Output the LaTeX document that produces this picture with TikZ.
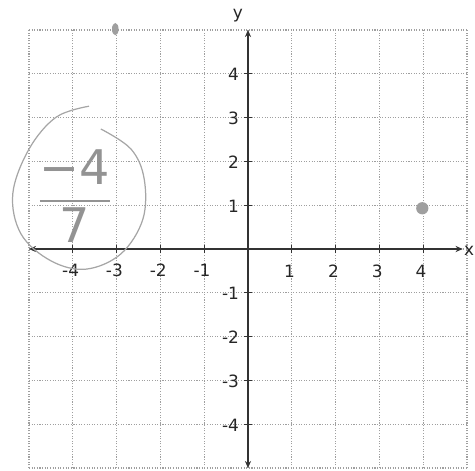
\documentclass[tikz,border=0pt]{standalone}
\usepackage{amsmath, amssymb}
\usepackage{fontspec}
\usepackage{color, xcolor}
\usepackage{tikz}
\usetikzlibrary{calc, arrows.meta, shapes.geometric}
\newfontfamily\labelfont{DejaVu Sans}

\begin{document}
\begin{tikzpicture}[
    gridline/.style={gray!75, densely dotted, line width=0.7pt},
    axisline/.style={black!80, line width=1.2pt, {Stealth[length=1.6mm,width=1.4mm]}-{Stealth[length=1.6mm,width=1.4mm]}},
    xlab/.style={inner sep=0pt, font=\labelfont\fontsize{11}{13}\selectfont, text=black!85},
    ylab/.style={inner sep=0pt, anchor=east, font=\labelfont\fontsize{11}{13}\selectfont, text=black!85},
    dot/.style={fill=gray!75, draw=none, inner sep=0pt},
    pencil/.style={gray!70, line width=0.8pt}
  ]
				\useasboundingbox (-5.662,-5.068) rectangle (5.183,5.685);

				%%% GRID
				\draw[gridline] (-5,-5) grid (5,5);

				%%% AXES
				\coordinate (xl) at (-5,0);
				\coordinate (xr) at (4.9,0);
				\coordinate (yb) at (0,-5);
				\coordinate (yt) at (0,5);
				\draw[axisline] (xl) -- (xr);
				\draw[axisline] (yb) -- (yt);
				\node[xlab, anchor=east] (xname) at (5.17,-0.04) {x};
				\node[xlab] (yname) at (-0.23,5.32) {y};

				%%% TICKS
				\draw[black!80, line width=0.7pt] (-4,-0.1) -- (-4,0.1) (-3,-0.1) -- (-3,0.1) (-2,-0.1) -- (-2,0.1) (-1,-0.1) -- (-1,0.1)
				      (1,-0.1) -- (1,0.1) (2,-0.1) -- (2,0.1) (3,-0.1) -- (3,0.1) (4,-0.1) -- (4,0.1);
				\draw[black!80, line width=0.7pt] (-0.1,-4) -- (0.1,-4) (-0.1,-3) -- (0.1,-3) (-0.1,-2) -- (0.1,-2) (-0.1,-1) -- (0.1,-1)
				      (-0.1,1) -- (0.1,1) (-0.1,2) -- (0.1,2) (-0.1,3) -- (0.1,3) (-0.1,4) -- (0.1,4);

				%%% X LABELS
				\node[xlab] (xm4) at (-4.05,-0.48) {-4};
				\node[xlab] (xm3) at (-3.05,-0.48) {-3};
				\node[xlab] (xm2) at (-2.05,-0.48) {-2};
				\node[xlab] (xm1) at (-1.05,-0.48) {-1};
				\node[xlab] (x1) at (0.95,-0.5) {1};
				\node[xlab] (x2) at (1.95,-0.5) {2};
				\node[xlab] (x3) at (2.95,-0.5) {3};
				\node[xlab] (x4) at (3.95,-0.5) {4};

				%%% Y LABELS
				\node[ylab] (y4) at (-0.2,3.98) {4};
				\node[ylab] (y3) at (-0.2,2.98) {3};
				\node[ylab] (y2) at (-0.2,1.98) {2};
				\node[ylab] (y1) at (-0.2,0.98) {1};
				\node[ylab] (ym1) at (-0.2,-1.02) {-1};
				\node[ylab] (ym2) at (-0.2,-2.02) {-2};
				\node[ylab] (ym3) at (-0.2,-3.02) {-3};
				\node[ylab] (ym4) at (-0.2,-4.02) {-4};

				%%% POINTS
				\node[dot, ellipse, minimum width=0.15cm, minimum height=0.28cm] (p1) at (-3.03,5.02) {};
				\node[dot, circle, minimum size=0.28cm] (p2) at (3.98,0.93) {};

				%%% ANSWER
				\draw[pencil] plot[smooth, tension=0.6] coordinates {(-3.63,3.26) (-4.38,3.01) (-5.00,2.28) (-5.37,1.26) (-5.18,0.34)
				      (-4.50,-0.27) (-3.70,-0.46) (-2.90,-0.11) (-2.40,0.68) (-2.37,1.60) (-2.67,2.28) (-3.36,2.74)};
				\node[text=gray!85, inner sep=0pt] (slope) at (-3.95,1.2) {\fontsize{31}{35}\selectfont$\dfrac{\text{\labelfont −4}}{\text{\labelfont 7}}$};
			\end{tikzpicture}
\end{document}
